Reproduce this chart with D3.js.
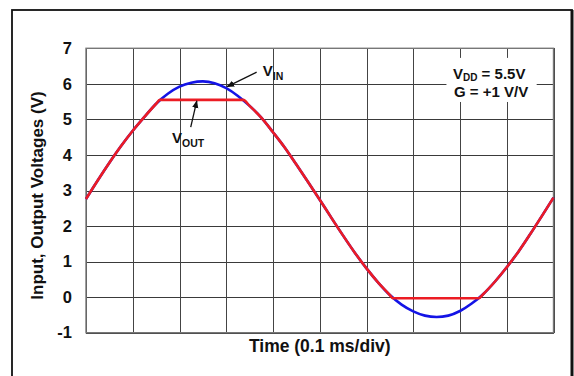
<!DOCTYPE html>
<html><head><meta charset="utf-8">
<script src="https://cdn.jsdelivr.net/npm/d3@7"></script>
<style>
html,body{margin:0;padding:0;background:#fff;}
svg{display:block;font-family:"Liberation Sans",Arial,sans-serif;font-weight:bold;}
</style></head>
<body><svg id="c" width="574" height="376"></svg>
<script>
// ---- data ----
const timeDiv = [0,0.25,0.5,0.75,1,1.25,1.5,1.75,2,2.25,2.5,2.75,3,3.25,3.5,3.75,4,4.25,4.5,4.75,5,5.25,5.5,5.75,6,6.25,6.5,6.75,7,7.25,7.5,7.75,8,8.25,8.5,8.75,9,9.25,9.5,9.75,10];
const vIn = [2.76,3.28,3.78,4.25,4.68,5.07,5.44,5.72,5.92,6.03,6.07,6.02,5.88,5.66,5.38,5.05,4.64,4.21,3.73,3.24,2.74,2.23,1.73,1.25,0.81,0.41,0.06,-0.21,-0.40,-0.52,-0.56,-0.52,-0.39,-0.18,0.09,0.44,0.84,1.28,1.77,2.28,2.80];
const voutTime = [0,0.25,0.5,0.75,1,1.25,1.5,1.58,3.36,3.5,3.75,4,4.25,4.5,4.75,5,5.25,5.5,5.75,6,6.25,6.5,6.56,8.40,8.5,8.75,9,9.25,9.5,9.75,10];
const vOut = [2.76,3.28,3.78,4.25,4.68,5.07,5.44,5.55,5.55,5.38,5.05,4.64,4.21,3.73,3.24,2.74,2.23,1.73,1.25,0.81,0.41,0.06,-0.03,-0.03,0.09,0.44,0.84,1.28,1.77,2.28,2.80];
const yTicks = [-1,0,1,2,3,4,5,6,7];
const xTicks = [0,1,2,3,4,5,6,7,8,9,10];
const yTitle = "Input, Output Voltages (V)";
const xTitle = "Time (0.1 ms/div)";

const svg = d3.select("#c");
const W = 574, H = 376;
const m = {left:86, right:20.5, top:48.3, bottom:43.3};
const x = d3.scaleLinear().domain([0,10]).range([m.left, W - m.right]);
const y = d3.scaleLinear().domain([-1,7]).range([H - m.bottom, m.top]);

// outer frame
svg.append("rect").attr("x",12).attr("y",10).attr("width",560).attr("height",380)
  .attr("fill","none").attr("stroke","#111").attr("stroke-width",1.8);
svg.append("line").attr("x1",572).attr("x2",572).attr("y1",10).attr("y2",376)
  .attr("stroke","#111").attr("stroke-width",3);

// grid via axes
const gy = svg.append("g").attr("transform",`translate(${m.left},0)`)
  .call(d3.axisLeft(y).tickValues(yTicks).tickSize(-(W-m.left-m.right)).tickSizeOuter(0)
    .tickPadding(14).tickFormat(d => String(d)));
gy.select(".domain").remove();
gy.selectAll(".tick line").attr("stroke","#3a3a3a").attr("stroke-width",1).attr("shape-rendering","crispEdges");
gy.selectAll(".tick text").attr("font-size",16.5).attr("font-weight","bold").attr("fill","#111")
  .attr("font-family","Liberation Sans, Arial, sans-serif");

const gx = svg.append("g").attr("transform",`translate(0,${H-m.bottom})`)
  .call(d3.axisBottom(x).tickValues(xTicks).tickSize(-(H-m.top-m.bottom)).tickSizeOuter(0).tickFormat(""));
gx.select(".domain").remove();
gx.selectAll(".tick line").attr("stroke","#444").attr("stroke-width",1).attr("shape-rendering","crispEdges");

// plot border
svg.append("rect").attr("x",x(0)).attr("y",y(7)).attr("width",x(10)-x(0)).attr("height",y(-1)-y(7))
  .attr("fill","none").attr("stroke","#777").attr("stroke-width",1.4);

// annotation box (white background)
const boxT = [7.71, 9.64], boxV = [6.73, 5.49];
svg.append("rect").attr("x",x(boxT[0])).attr("y",y(boxV[0])).attr("width",x(boxT[1])-x(boxT[0]))
  .attr("height",y(boxV[1])-y(boxV[0])).attr("fill","#fff");

// curves
const line = d3.line().curve(d3.curveMonotoneX);
svg.append("path").attr("d", line(timeDiv.map((t,i)=>[x(t), y(vIn[i])])))
  .attr("fill","none").attr("stroke","#1414e6").attr("stroke-width",2.6);
svg.append("path").attr("d", line(voutTime.map((t,i)=>[x(t), y(vOut[i])])))
  .attr("fill","none").attr("stroke","#ec1c24").attr("stroke-width",2.6);

// arrows
const defs = svg.append("defs");
defs.append("marker").attr("id","ah").attr("viewBox","0 0 10 10").attr("refX",9).attr("refY",5)
  .attr("markerWidth",6).attr("markerHeight",6).attr("orient","auto")
  .append("path").attr("d","M0,1 L10,5 L0,9 z").attr("fill","#111");
const arrows = [{from:[3.65,6.33], to:[3.02,5.92]}, {from:[2.24,4.78], to:[2.37,5.52]}];
arrows.forEach(a=>{
  svg.append("line").attr("x1",x(a.from[0])).attr("y1",y(a.from[1]))
    .attr("x2",x(a.to[0])).attr("y2",y(a.to[1]))
    .attr("stroke","#111").attr("stroke-width",1.3).attr("marker-end","url(#ah)");
});

// labels with subscripts
function subLabel(t, v, main, sub, rest, fs, sfs, dy){
  const tx = svg.append("text").attr("x",x(t)).attr("y",y(v)).attr("font-size",fs).attr("fill","#111");
  tx.append("tspan").text(main);
  tx.append("tspan").attr("font-size",sfs).attr("dy",dy).text(sub);
  if(rest) tx.append("tspan").attr("dy",-dy).text(rest);
  return tx;
}
subLabel(3.78, 6.22, "V", "IN", null, 15, 10.5, 4);
subLabel(1.84, 4.34, "V", "OUT", null, 15, 10.5, 4);
subLabel(7.85, 6.14, "V", "DD", " = 5.5V", 15, 10, 2.5);
svg.append("text").attr("x",x(7.87)).attr("y",y(5.64)).attr("font-size",15).attr("fill","#111").text("G = +1 V/V");

// axis titles
svg.append("text").attr("x",(x(0)+x(10))/2).attr("y",352).attr("text-anchor","middle")
  .attr("font-size",17.5).attr("fill","#111").text(xTitle);
svg.append("text").attr("transform",`translate(43,${(y(-1)+y(7))/2+5}) rotate(-90)`).attr("text-anchor","middle")
  .attr("font-size",17).attr("fill","#111").text(yTitle);
</script></body></html>
